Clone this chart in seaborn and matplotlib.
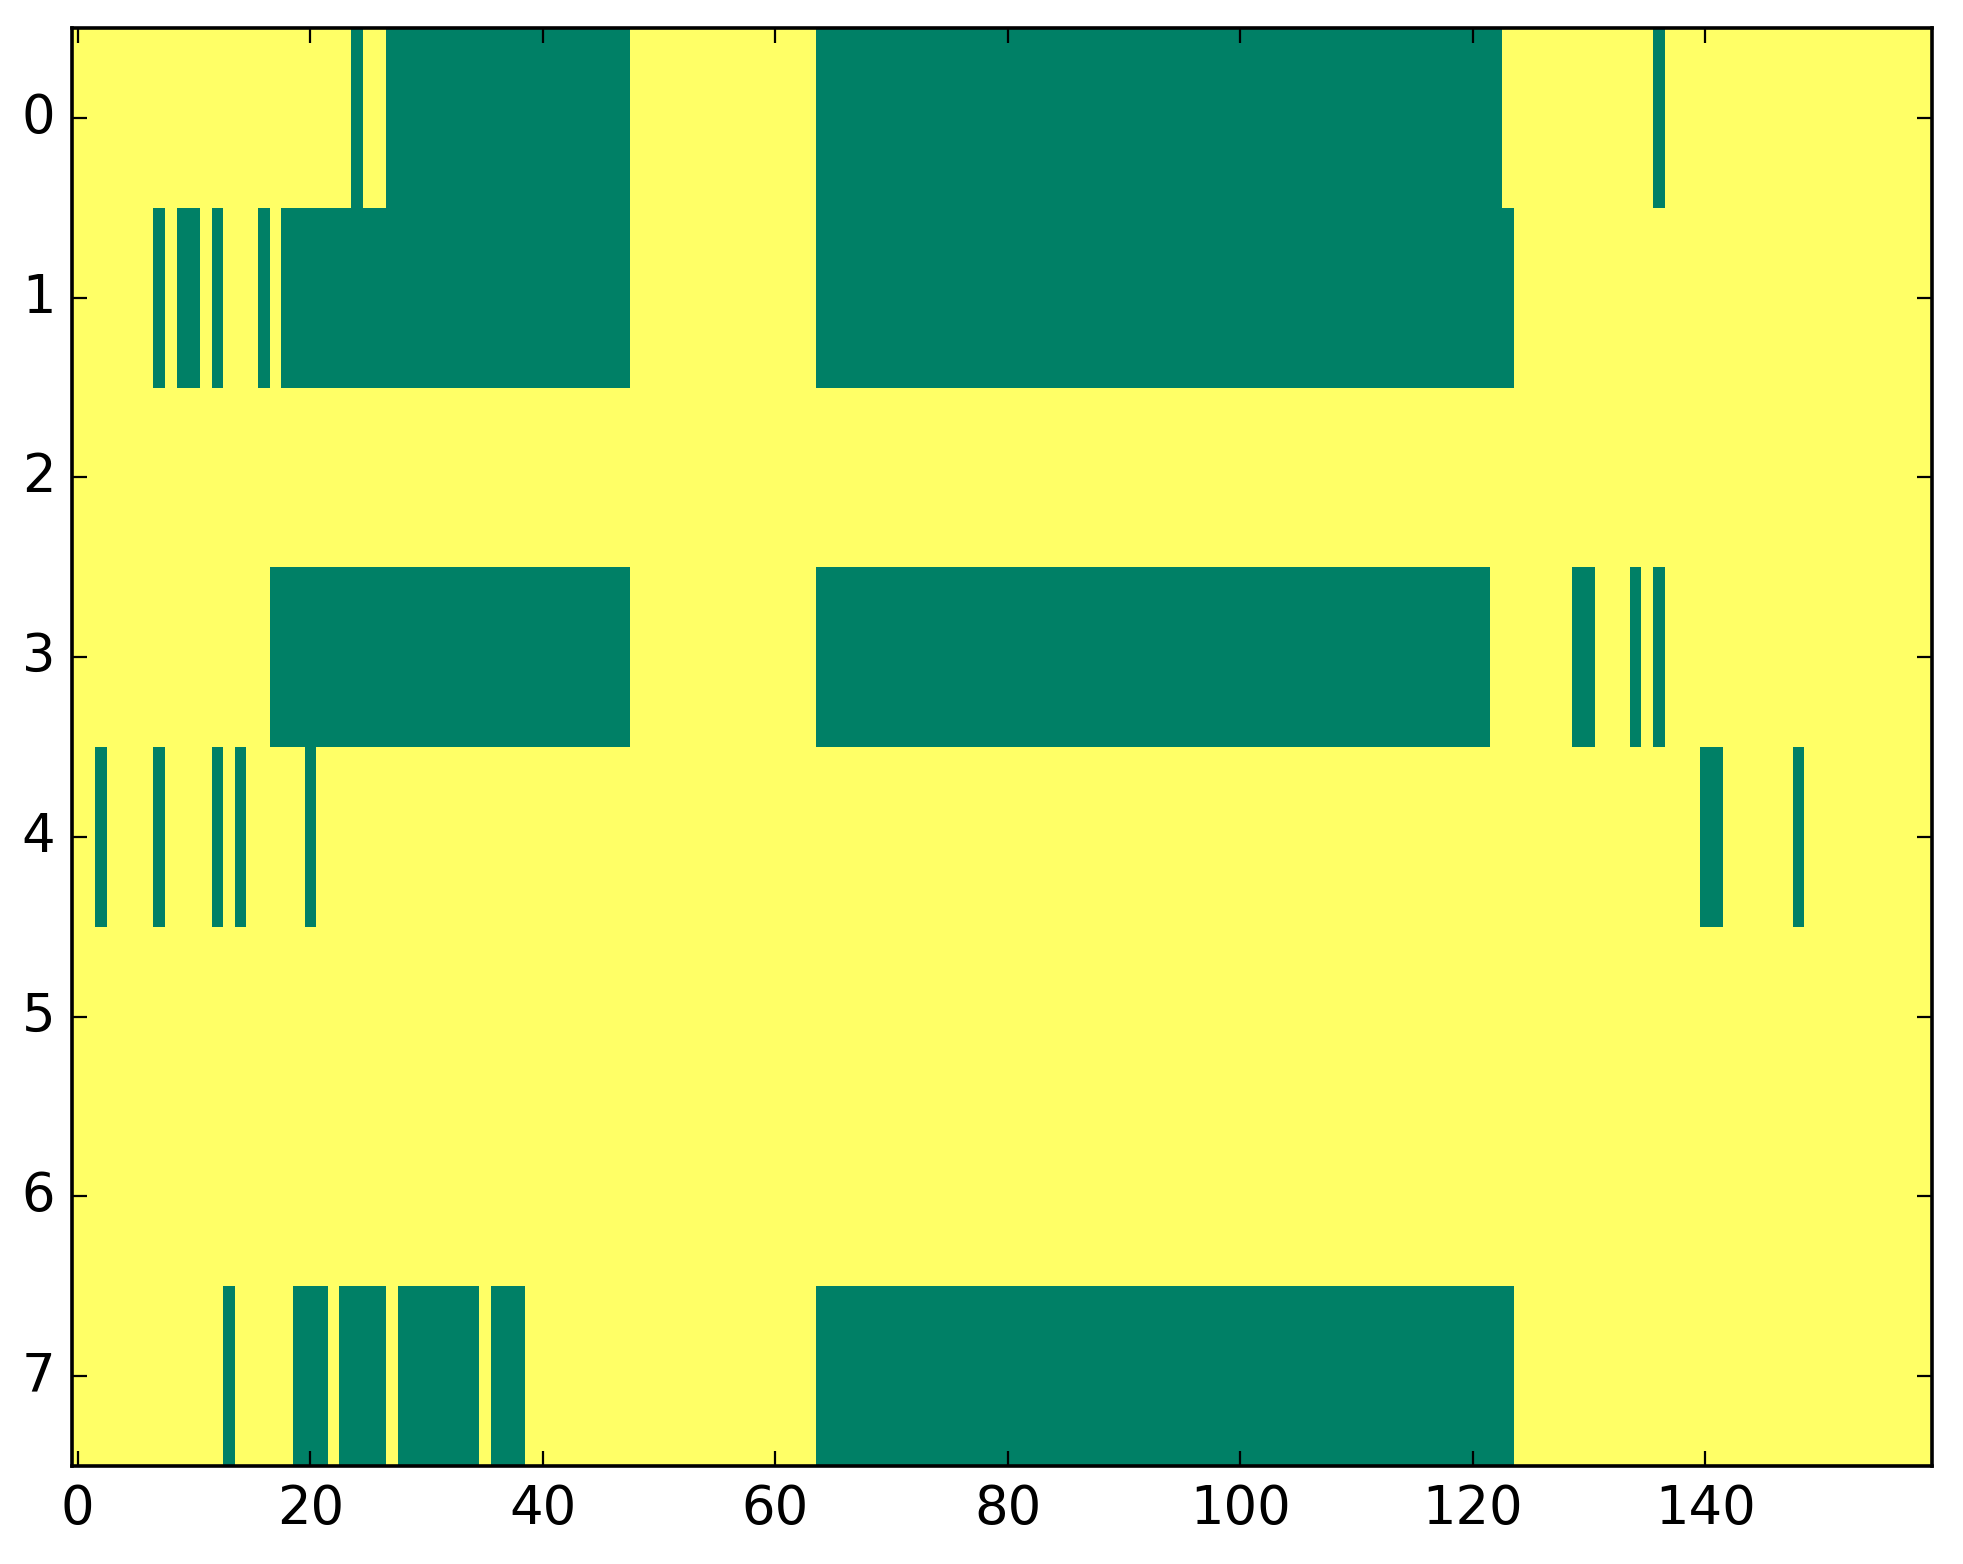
import numpy as np
import pandas as pd
import seaborn as sns
import matplotlib.pyplot as plt

# green (value 0) column runs for each row, inclusive; everything else is 1 (yellow)
n_cols = 160
row0 = [(24, 24), (27, 47), (64, 122), (136, 136)]
row1 = [(7, 7), (9, 10), (12, 12), (16, 16), (18, 47), (64, 123)]
row2 = []
row3 = [(17, 47), (64, 121), (129, 130), (134, 134), (136, 136)]
row4 = [(2, 2), (7, 7), (12, 12), (14, 14), (20, 20), (140, 141), (148, 148)]
row5 = []
row6 = []
row7 = [(13, 13), (19, 21), (23, 26), (28, 34), (36, 38), (64, 123)]
rows = [row0, row1, row2, row3, row4, row5, row6, row7]

xtick_vals = [0, 20, 40, 60, 80, 100, 120, 140]
ytick_vals = [0, 1, 2, 3, 4, 5, 6, 7]

grid = np.ones((len(rows), n_cols))
for r, runs in enumerate(rows):
    for a, b in runs:
        grid[r, a:b + 1] = 0
df = pd.DataFrame(grid)

sns.set_style('white')
plt.rcParams['font.family'] = ['DejaVu Sans']

fig = plt.figure(figsize=(1963 / 200, 1564 / 200), dpi=200)
ax = fig.add_axes([72 / 1963, 98 / 1564, 1860 / 1963, 1438 / 1564])

sns.heatmap(df, cmap='summer', vmin=0, vmax=1, cbar=False, ax=ax)

ax.set_xticks(np.array(xtick_vals) + 0.5)
ax.set_xticklabels([str(v) for v in xtick_vals], rotation=0, fontsize=19)
ax.set_yticks(np.array(ytick_vals) + 0.5)
ax.set_yticklabels([str(v) for v in ytick_vals], rotation=0, fontsize=19)
ax.set_xlabel('')
ax.set_ylabel('')

# ticks must sit above the mesh
ax.set_axisbelow(False)
for s in ax.spines.values():
    s.set_visible(True)
    s.set_linewidth(1.3)
    s.set_color('black')
    s.set_zorder(5)

ax.tick_params(direction='in', bottom=True, left=True, top=True, right=True,
               length=5.4, width=0.8, color='black', labelcolor='black')
ax.tick_params(axis='x', pad=6)
ax.tick_params(axis='y', pad=6)

fig.savefig('out.png', dpi=200)
